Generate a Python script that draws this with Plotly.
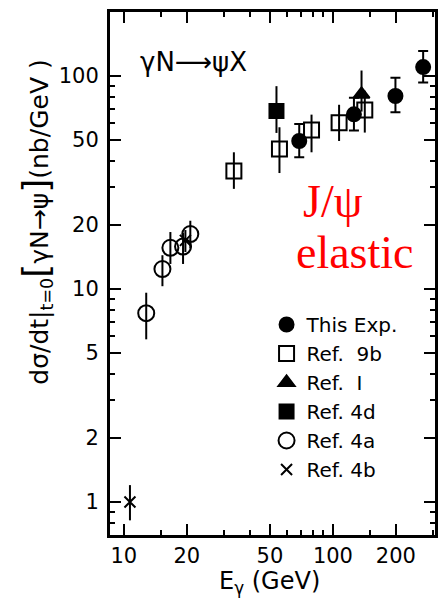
import plotly.graph_objects as go

# Photon energy E_gamma (GeV) and forward cross section dσ/dt|t=0 (nb/GeV^2)
this_exp_E = [69, 126, 199, 270]
this_exp_y = [49.5, 66, 80.5, 110]
this_exp_up = [10, 13, 17.5, 21]
this_exp_dn = [8, 10.5, 13, 17]

ref9b_E = [33.6, 55.5, 79, 107, 142]
ref9b_y = [35.8, 45.4, 55.8, 60.2, 69.2]
ref9b_up = [8, 12, 10, 13, 16]
ref9b_dn = [6.3, 10.4, 12, 10.7, 15]

ref1_E = [137]
ref1_y = [82]
ref1_up = [24]
ref1_dn = [14]

ref4d_E = [53.7]
ref4d_y = [68.5]
ref4d_up = [21]
ref4d_dn = [14.5]

ref4a_E = [12.8, 15.3, 16.7, 19.2, 20.8]
ref4a_y = [7.7, 12.4, 15.6, 15.8, 18.1]
ref4a_up = [1.9, 2.0, 2.9, 2.5, 2.8]
ref4a_dn = [1.9, 2.1, 2.5, 2.7, 2.6]

ref4b_E = [10.7, 19.7]
ref4b_y = [1.0, 16.9]
ref4b_up = [0.2, 2.0]
ref4b_dn = [0.18, 2.0]

x_major = [10, 20, 50, 100, 200]
x_minor = [15, 30, 40, 60, 70, 80, 90, 150, 300]
y_major = [1, 2, 5, 10, 20, 50, 100]
y_minor = [0.8, 0.9, 3, 4, 6, 7, 8, 9, 30, 40, 60, 70, 80, 90, 200]

FONT = "DejaVu Sans"
BLACK = "black"

# plot area in pixels, used to place the free text labels
L, R, T, B = 110, 438, 12, 535


def px(xp, yp):
    return (xp - L) / (R - L), (B - yp) / (B - T)


fig = go.Figure()


def add_series(name, xs, ys, up, dn, symbol, size, cap, group):
    fig.add_trace(go.Scatter(
        x=xs, y=ys, mode="markers", name=name,
        legendgroup=group,
        marker=dict(symbol=symbol, size=size, color=BLACK,
                    line=dict(color=BLACK, width=2)),
        error_y=dict(type="data", symmetric=False, array=up, arrayminus=dn,
                     color=BLACK, thickness=2, width=cap),
    ))


add_series("This Exp.", this_exp_E, this_exp_y, this_exp_up, this_exp_dn,
           "circle", 14, 5, "a")
add_series("Ref.  9b", ref9b_E, ref9b_y, ref9b_up, ref9b_dn,
           "square-open", 15, 0, "b")
add_series("Ref.  I", ref1_E, ref1_y, ref1_up, ref1_dn,
           "triangle-up", 14, 0, "c")
add_series("Ref. 4d", ref4d_E, ref4d_y, ref4d_up, ref4d_dn,
           "square", 14, 0, "d")
add_series("Ref. 4a", ref4a_E, ref4a_y, ref4a_up, ref4a_dn,
           "circle-open", 16, 0, "e")
add_series("Ref. 4b", ref4b_E, ref4b_y, ref4b_up, ref4b_dn,
           "x-thin-open", 11, 0, "f")

axis_common = dict(
    type="log", showgrid=False, zeroline=False,
    showline=True, linecolor=BLACK, linewidth=3, mirror="allticks",
    ticks="inside", ticklen=11, tickwidth=2, tickcolor=BLACK,
    tickfont=dict(family=FONT, size=21, color=BLACK),
    tickmode="array",
)

fig.update_xaxes(
    **axis_common,
    range=[0.934, 2.488],
    tickvals=x_major, ticktext=[str(v) for v in x_major],
    minor=dict(tickmode="array", tickvals=x_minor, ticks="inside",
               ticklen=5, tickwidth=2, tickcolor=BLACK),
)
fig.update_yaxes(
    **axis_common,
    range=[-0.155, 2.30],
    tickvals=y_major, ticktext=[str(v) for v in y_major],
    ticklabelstandoff=4,
    minor=dict(tickmode="array", tickvals=y_minor, ticks="inside",
               ticklen=5, tickwidth=2, tickcolor=BLACK),
)


def label(xp, yp, text, size, family=FONT, color=BLACK, angle=0):
    x, y = px(xp, yp)
    fig.add_annotation(
        xref="paper", yref="paper", x=x, y=y,
        xanchor="center", yanchor="middle",
        text=text, textangle=angle, showarrow=False,
        font=dict(family=family, size=size, color=color),
    )


label(35, 222,
      "dσ/dt|<sub>t=0</sub><span style='font-size:36px'>[</span>γN→ψ"
      "<span style='font-size:36px'>]</span>(nb/GeV )",
      25, angle=-90)
label(271, 582, "E<sub>γ</sub> (GeV)", 24)
label(194, 62, "γN⟶ψX", 26)
label(335, 201, "J/ψ", 46, family="Liberation Serif", color="#ff0000")
label(357, 252, "elastic", 46, family="Liberation Serif", color="#ff0000")

lx, ly = px(268, 305)
fig.update_layout(
    width=442, height=607,
    margin=dict(l=L, r=442 - R, t=T, b=607 - B),
    paper_bgcolor="white", plot_bgcolor="white",
    showlegend=True,
    legend=dict(
        x=lx, y=ly, xanchor="left", yanchor="top",
        bgcolor="rgba(0,0,0,0)", borderwidth=0,
        font=dict(family=FONT, size=20, color=BLACK),
        tracegroupgap=0, itemwidth=30,
    ),
)

fig.write_html("out.html")
